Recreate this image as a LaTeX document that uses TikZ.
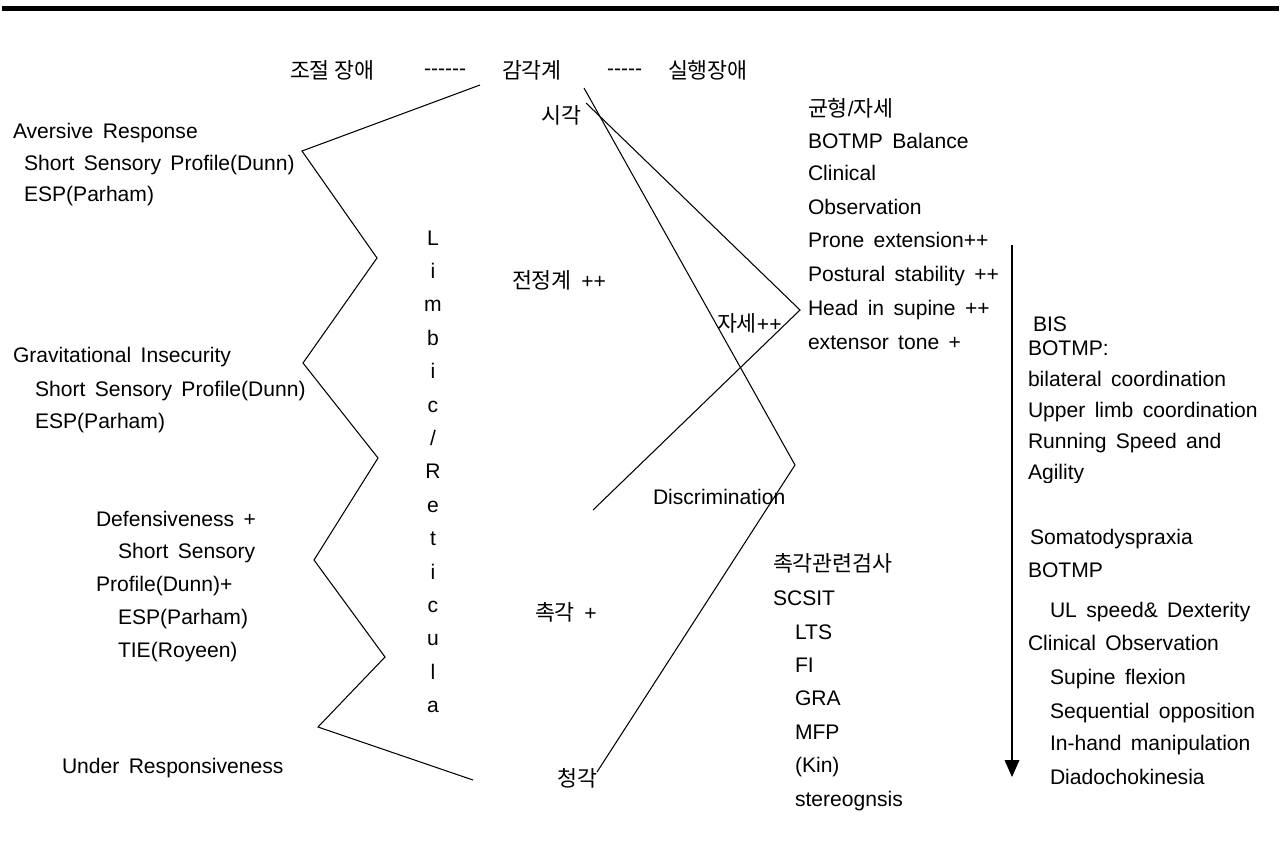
\documentclass[tikz,border=0pt]{standalone}
\usepackage{fontspec}
\setmainfont{Liberation Sans}[WordSpace=1.6, Ligatures=TeXOff]
\newfontfamily\kr{Noto Sans CJK KR}[Scale=1.03]
\begin{document}
\begin{tikzpicture}[x=0.02cm, y=-0.02cm,
  every node/.style={inner sep=0pt, outer sep=0pt},
  t/.style={anchor=base west, font=\fontsize{12}{14}\selectfont},
  tw/.style={anchor=west, font=\fontsize{12}{14}\selectfont},
  tc/.style={anchor=center, font=\fontsize{12}{14}\selectfont},
  ln/.style={line width=0.6pt, line join=miter}]
\useasboundingbox (0,0) rectangle (1281,843);
% top rule
\coordinate (r1) at (2,8.5); \coordinate (r2) at (1279,8.5);
\draw[line width=2.9pt] (r1) -- (r2);
% header
\node[tw] (h1) at (290,70) {\kr 조절 장애};
\node[tw] (h2) at (424,72) {------};
\node[tw] (h3) at (502,70) {\kr 감각계};
\node[tw] (h4) at (607,72) {-----};
\node[tw] (h5) at (668,70) {\kr 실행장애};
% sensory labels
\node[tc] (s1) at (561,115) {\kr 시각};
\node[tw] (s2) at (512,280) {{\kr 전정계} ++};
\node[tw] (s3) at (717,323) {{\kr 자세}++};
\node[t] (s4) at (653,504) {Discrimination};
\node[tw] (s5) at (535,612) {{\kr 촉각} +};
\node[tc] (s6) at (577,778) {\kr 청각};
% Limbic / Reticula
\foreach \c [count=\i from 0] in {L,i,m,b,i,c,/,R,e,t,i,c,u,l,a}
  \node[anchor=base, font=\fontsize{12}{14}\selectfont] (lr\i) at (433,238+7+33.4*\i) {\c};
% left column
\node[t] (a1) at (13,138) {Aversive Response};
\node[t] (a2) at (24,170) {Short Sensory Profile(Dunn)};
\node[t] (a3) at (24,201) {ESP(Parham)};
\node[t] (g1) at (13,362) {Gravitational Insecurity};
\node[t] (g2) at (35,396) {Short Sensory Profile(Dunn)};
\node[t] (g3) at (35,428) {ESP(Parham)};
\node[t] (d1) at (96,526) {Defensiveness +};
\node[t] (d2) at (118,558) {Short Sensory};
\node[t] (d3) at (96,591) {Profile(Dunn)+};
\node[t] (d4) at (118,624) {ESP(Parham)};
\node[t] (d5) at (118,657) {TIE(Royeen)};
\node[t] (u1) at (62,773) {Under Responsiveness};
% balance column
\node[tw] (b1) at (808,108) {{\kr 균형}/{\kr 자세}};
\node[t] (b2) at (808,148) {BOTMP Balance};
\node[t] (b3) at (808,180) {Clinical};
\node[t] (b4) at (808,214) {Observation};
\node[t] (b5) at (808,247) {Prone extension++};
\node[t] (b6) at (808,281) {Postural stability ++};
\node[t] (b7) at (808,315) {Head in supine ++};
\node[t] (b8) at (808,349) {extensor tone +};
% tactile column
\node[tw] (c1) at (773,563) {\kr 촉각관련검사};
\node[t] (c2) at (773,605) {SCSIT};
\node[t] (c3) at (795,639) {LTS};
\node[t] (c4) at (795,672) {FI};
\node[t] (c5) at (795,705) {GRA};
\node[t] (c6) at (795,739) {MFP};
\node[t] (c7) at (795,772) {(Kin)};
\node[t] (c8) at (795,806) {stereognsis};
% praxis column
\node[t] (p1) at (1033,331) {BIS};
\node[t] (p2) at (1028,355) {BOTMP:};
\node[t] (p3) at (1028,386) {bilateral coordination};
\node[t] (p4) at (1028,417) {Upper limb coordination};
\node[t] (p5) at (1028,448) {Running Speed and};
\begin{scope}
  \clip (1020,460) rectangle (1281,482);
  \node[t] (p6) at (1028,479) {Agility};
\end{scope}
\node[t] (q1) at (1030,544) {Somatodyspraxia};
\node[t] (q2) at (1028,577) {BOTMP};
\node[t] (q3) at (1050,617) {UL speed\& Dexterity};
\node[t] (q4) at (1028,650) {Clinical Observation};
\node[t] (q5) at (1050,684) {Supine flexion};
\node[t] (q6) at (1050,718) {Sequential opposition};
\node[t] (q7) at (1050,750) {In-hand manipulation};
\node[t] (q8) at (1050,784) {Diadochokinesia};
% zigzag
\coordinate (z0) at (480,85);
\coordinate (z1) at (302,151);
\coordinate (z2) at (377,258);
\coordinate (z3) at (303,363);
\coordinate (z4) at (378,458);
\coordinate (z5) at (314,560);
\coordinate (z6) at (385,657);
\coordinate (z7) at (318,727);
\coordinate (z8) at (473,780);
\draw[ln] (z0) -- (z1) -- (z2) -- (z3) -- (z4) -- (z5) -- (z6) -- (z7) -- (z8);
% crossing lines
\coordinate (la0) at (584,88); \coordinate (la1) at (795,465); \coordinate (la2) at (597,772);
\draw[ln] (la0) -- (la1) -- (la2);
\coordinate (lb0) at (586,103); \coordinate (lb1) at (800,310); \coordinate (lb2) at (593,510);
\draw[ln] (lb0) -- (lb1) -- (lb2);
% arrow
\coordinate (v0) at (1012,245); \coordinate (v1) at (1012,760); \coordinate (v2) at (1012,777);
\draw[ln] (v0) -- (v1);
\fill (1004.5,760) -- (1019.5,760) -- (v2) -- cycle;
\end{tikzpicture}
\end{document}
